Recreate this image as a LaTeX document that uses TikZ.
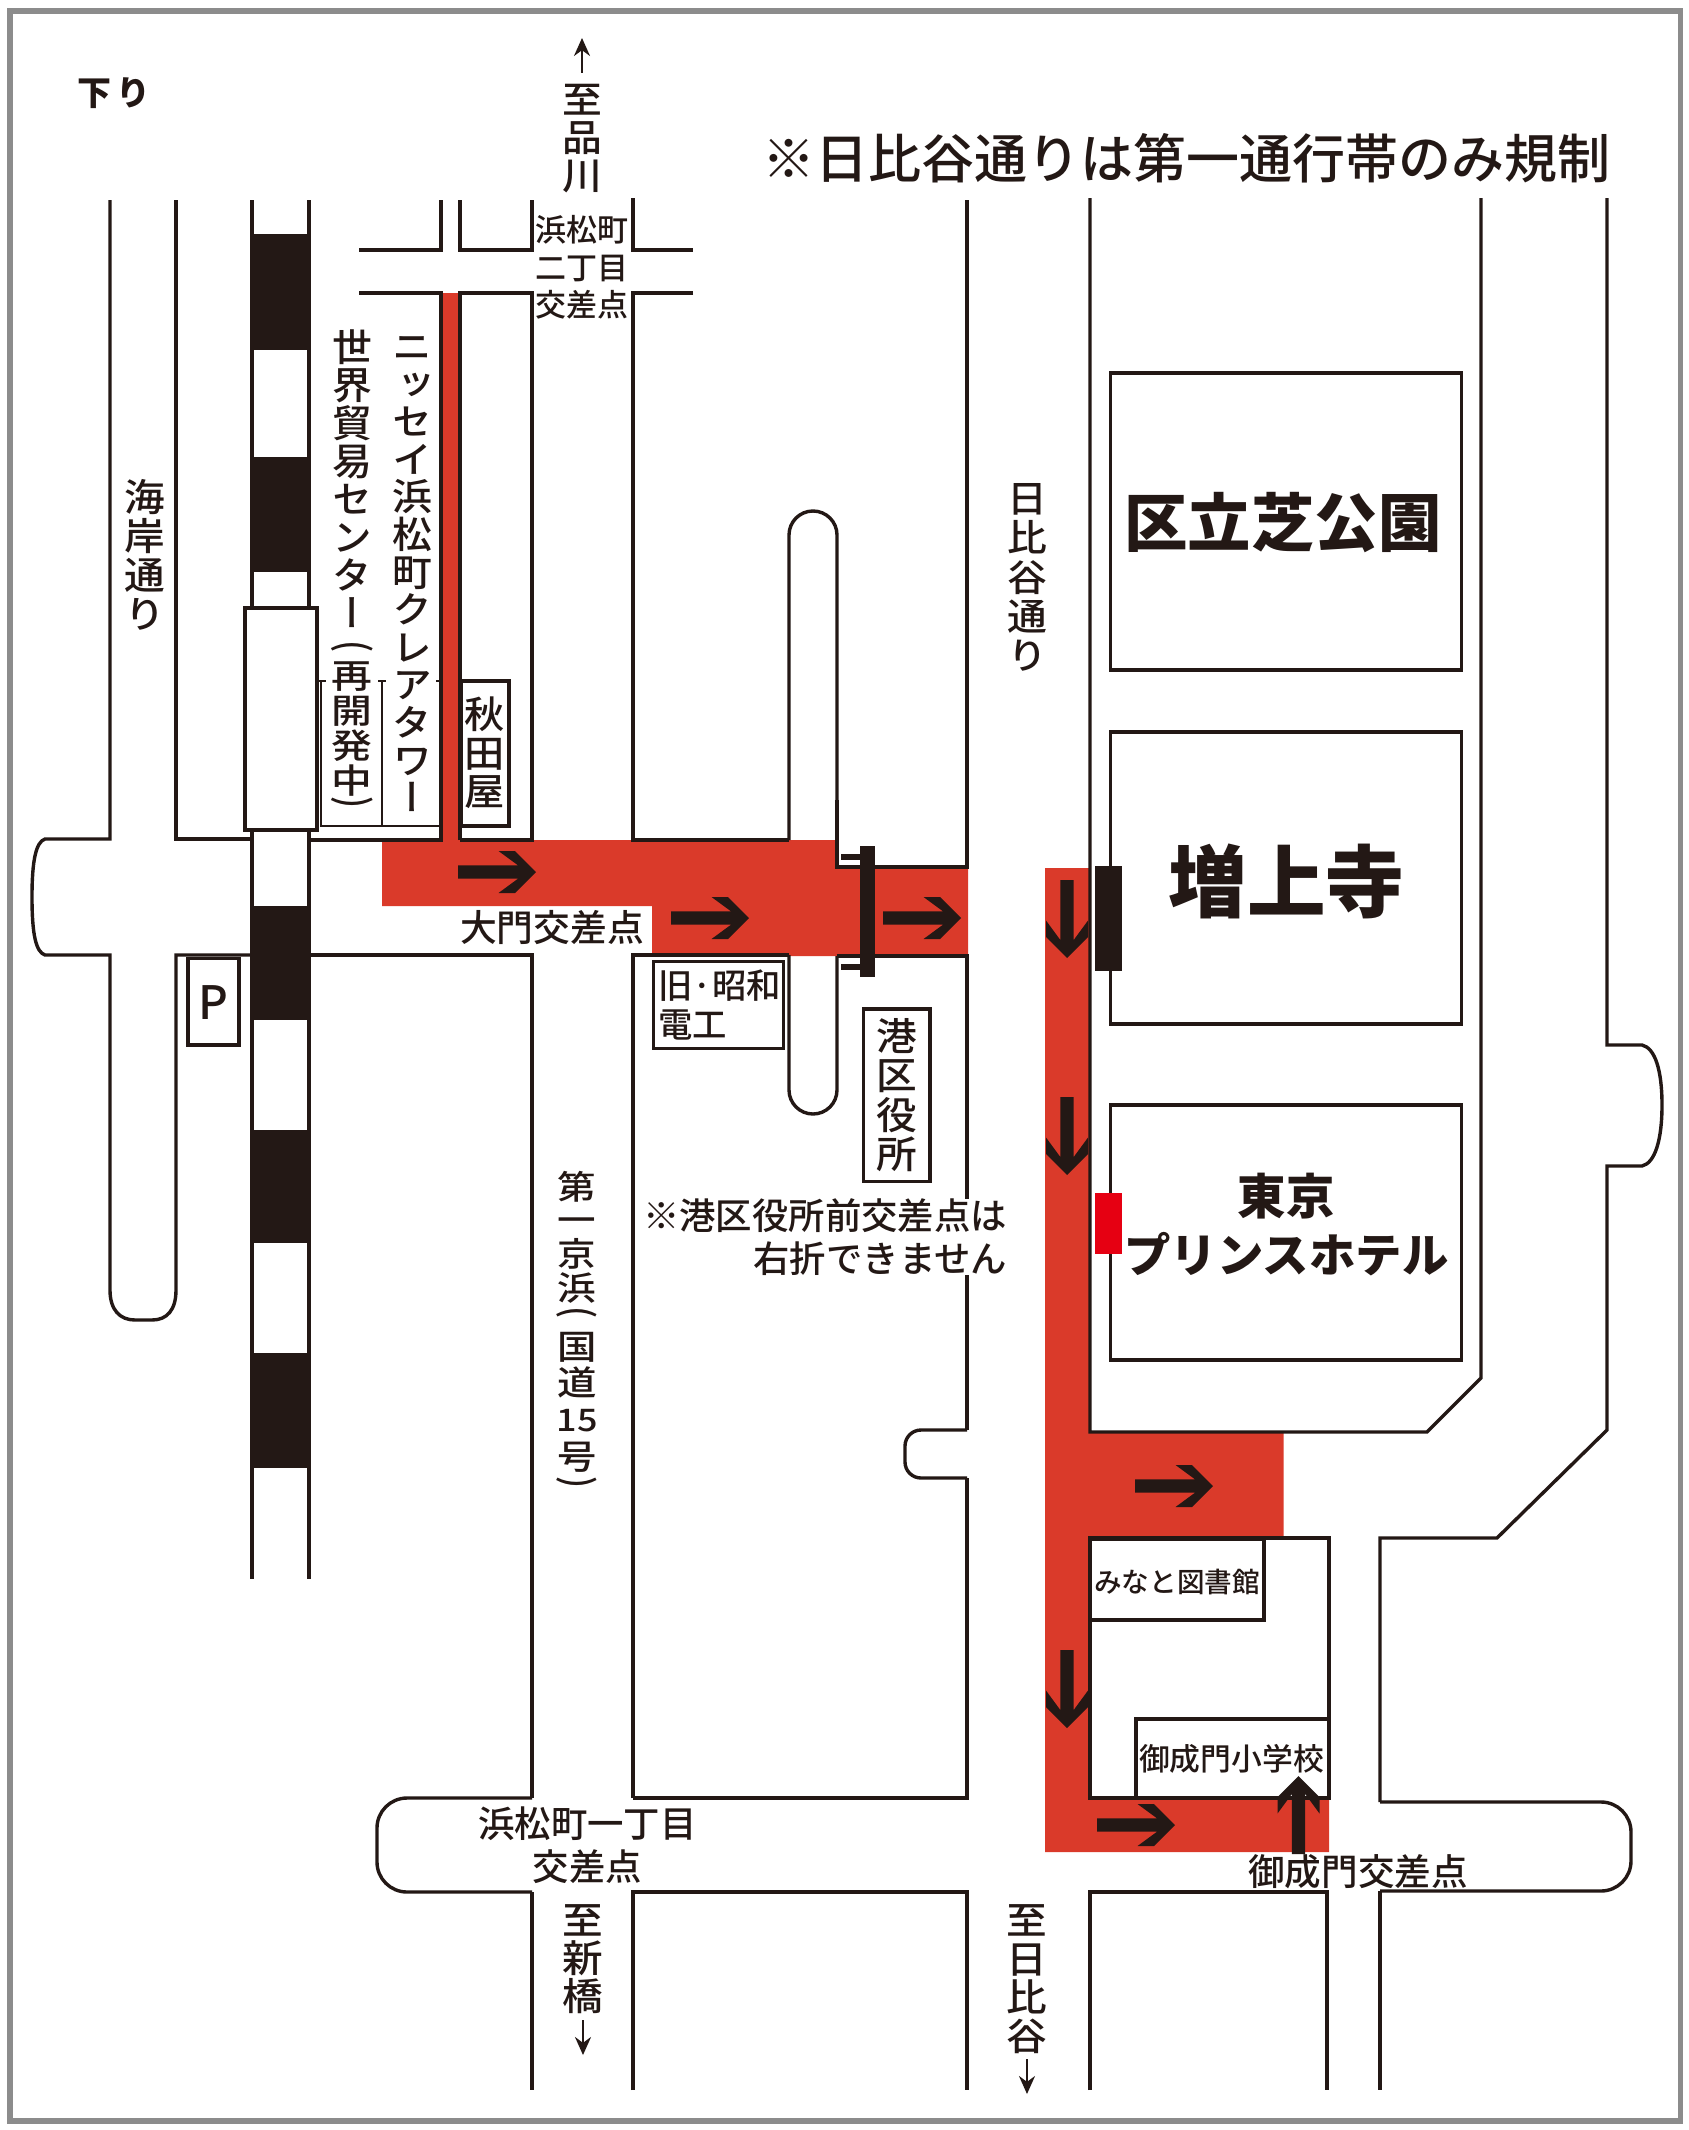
\documentclass[tikz,border=0pt]{standalone}
\usepackage{fontspec}
\usetikzlibrary{arrows.meta}
\newfontfamily\jp{Noto Sans CJK JP Medium}
\newfontfamily\jpb{Noto Sans CJK JP Black}
\newfontfamily\jpv{Noto Sans CJK JP Medium}[RawFeature=+vert]
\setmainfont{Noto Sans CJK JP}
\definecolor{ink}{HTML}{231815}
\definecolor{route}{HTML}{DA3A2A}
\definecolor{pure}{HTML}{E60012}
\definecolor{framegray}{HTML}{8C8C8C}
\makeatletter
\newcommand\vcell[2]{\hbox to 1em{\vrule height \dimexpr#1pt/2+.38em\relax depth \dimexpr#1pt/2-.38em\relax width 0pt\hss\smash{#2}\hss}}
\newcommand\vrun[2]{\@tfor\vc:=#2\do{\vcell{#1}{\vc}}}
\newcommand\vpart[3]{\hbox to 26pt{\hss\scalebox{#1}[1]{\vbox{\fontsize{#2}{#2}\jpv\offinterlineskip #3}}\hss}}
\newcommand\vtxt[3]{\vpart{1.07}{#1}{\vrun{#2}{#3}}}
\newcommand\vparen[2]{\vbox to #1pt{\vss\hbox to 1em{\hss\rotatebox[origin=c]{-90}{#2}\hss}\vss}}
\makeatother
\newcommand\fs[1]{\fontsize{#1}{#1}\selectfont}
\tikzset{
  x=0.5pt,y=-0.5pt,
  road/.style={draw=ink,line width=1.7pt,line join=miter},
  bldg/.style={draw=ink,line width=1.9pt,fill=white},
  label/.style={inner sep=0pt,text=ink,font=\jp},
  bigarrow/.pic={\fill[ink] (0,-6.7)--(60,-6.7)--(40.5,-21)--(57,-21)--(78,0)--(57,21)--(40.5,21)--(60,6.7)--(0,6.7)--cycle;},
  smallarrow/.style={draw=ink,line width=1.2pt,-{Stealth[length=9pt,width=8pt]}}
}
\begin{document}
\begin{tikzpicture}
\useasboundingbox (0,0) rectangle (1689,2130);
\fill[white] (0,0) rectangle (1689,2130);
\draw[framegray,line width=2.6pt] (10,11) rectangle (1680.5,2121);

% route
\fill[route] (382,840)--(837,840)--(837,867)--(968,867)--(968,956)--(652,956)--(652,906)--(382,906)--cycle;
\fill[route] (441,293) rectangle (460,842);
\fill[route] (1045,868)--(1090,868)--(1090,1432)--(1283.5,1432)--(1283.5,1539)--(1090,1539)--(1090,1798)--(1329,1798)--(1329,1852)--(1045,1852)--cycle;

% coast road
\draw[road] (110,200)--(110,839)--(45,839) .. controls (36,842) and (32,860) .. (32,897) .. controls (32,935) and (36,952) .. (45,955)--(110,955)--(110,1290) .. controls (110,1310) and (120,1320) .. (135,1320)--(152,1320) .. controls (167,1320) and (176,1310) .. (176,1290)--(176,955)--(252,955);
\draw[road] (176,200)--(176,839)--(252,839);
% top crossing
\draw[road] (359,250)--(441,250)--(441,200);
\draw[road] (460,200)--(460,250)--(532,250)--(532,200);
\draw[road] (633,198)--(633,250)--(693,250);
\draw[road] (359,293)--(441,293)--(441,840)--(309,840);
\draw[road] (460,840)--(460,293)--(532,293)--(532,840)--(460,840);
\draw[road] (693,293)--(633,293)--(633,840)--(789,840);
% stub north
\draw[road,rounded corners=12pt] (789,840)--(789,511)--(837,511)--(837,800);
\draw[road] (837,800)--(837,867)--(967,867)--(967,200);
% south of cross road
\draw[road] (309,955)--(532,955)--(532,1798);
\draw[road] (633,1798)--(633,955)--(789,955);
\draw[road,rounded corners=12pt] (789,955)--(789,1114)--(837,1114)--(837,956);
\draw[road] (837,956)--(967,956)--(967,1430);
\draw[road,rounded corners=8pt] (967,1430)--(905,1430)--(905,1478)--(967,1478);
\draw[road] (967,1478)--(967,1798)--(633,1798);
% lower cross road
\draw[road,rounded corners=15pt] (532,1798)--(377,1798)--(377,1892)--(532,1892);
\draw[road] (532,1892)--(532,2090);
\draw[road] (633,2090)--(633,1892)--(967,1892)--(967,2090);
\draw[road] (1090,2090)--(1090,1892)--(1327,1892)--(1327,2090);
% Hibiya east side
\draw[road] (1090,198)--(1090,1432)--(1427,1432)--(1481,1378)--(1481,198);
\draw[road] (1607,198)--(1607,1045)--(1642,1045) .. controls (1655,1048) and (1662,1070) .. (1662,1105) .. controls (1662,1140) and (1655,1163) .. (1642,1166)--(1607,1166)--(1607,1430)--(1497,1538)--(1380,1538)--(1380,1802);
\draw[road,rounded corners=15pt] (1380,1802)--(1631,1802)--(1631,1891)--(1380,1891);
\draw[road] (1380,1891)--(1380,2090);
\draw[bldg,fill=none] (1090,1538)--(1329,1538)--(1329,1798)--(1090,1798)--cycle;

% rail
\foreach \a/\b in {234/350,457/572,906/1020,1130/1243,1353/1468}{\fill[ink] (251,\a) rectangle (311,\b);}
\draw[road,line width=2pt] (252,200)--(252,1579);
\draw[road,line width=2pt] (309,200)--(309,1579);
\draw[bldg,line width=2pt] (244.5,608) rectangle (317,830);

% buildings
\draw[bldg] (1110.5,373) rectangle (1461.5,670);
\draw[bldg] (1110.5,732) rectangle (1461.5,1024);
\draw[bldg] (1110.5,1105) rectangle (1461.5,1360);
\draw[bldg] (1090,1539) rectangle (1264,1620);
\draw[bldg] (1136,1719) rectangle (1329,1798);
\draw[bldg] (461,681) rectangle (509,826);
\draw[bldg] (188,958.5) rectangle (239,1044.7);
\draw[bldg,line width=1.7pt] (653.5,961.5) rectangle (783.5,1048.5);
\draw[bldg] (863.5,1009) rectangle (930,1181.5);
% thin box
\draw[ink,line width=.8pt] (321,681)--(321,826)--(441,826);
\draw[ink,line width=.8pt] (382,681)--(382,826);
\draw[ink,line width=.8pt] (319,681)--(326,681) (378,681)--(386,681) (436,681)--(441,681);

% gate bars
\fill[ink] (860,846) rectangle (875,977);
\draw[ink,line width=3.3pt] (841,857)--(860,857) (841,967)--(860,967);
\fill[ink] (1095,866) rectangle (1122,971);
\fill[pure] (1095,1193) rectangle (1122,1254);

% arrows
\pic at (458,872) {bigarrow};
\pic at (671,918) {bigarrow};
\pic at (883,918) {bigarrow};
\pic[rotate=-90] at (1067,880) {bigarrow};
\pic[rotate=-90] at (1067,1097) {bigarrow};
\pic at (1135,1486) {bigarrow};
\pic[rotate=-90] at (1067,1650) {bigarrow};
\pic at (1097,1825) {bigarrow};
\pic[rotate=90] at (1298.5,1854) {bigarrow};

\coordinate (ua) at (582,73); \coordinate (ub) at (582,38);
\coordinate (sa) at (583,2020); \coordinate (sb) at (583,2055);
\coordinate (ha) at (1027,2059); \coordinate (hb) at (1027,2094);
\draw[smallarrow] (ua)--(ub);
\draw[smallarrow] (sa)--(sb);
\draw[smallarrow] (ha)--(hb);

% texts
\node[label,font=\jpb\fs{17}] (down) at (114,93) {下\,り};
\node[label,font=\jp\fs{26.5}] (title) at (1186.5,158) {※日比谷通りは第一通行帯のみ規制};
\node[label] (shina) at (582,137) {\vtxt{18.6}{19}{至品川}};
\node[label,font=\jp\fs{15.5},align=center] (hama2) at (582,267.5) {浜松町\\[3.2pt]二丁目\\[3.2pt]交差点};
\node[label] (wtc) at (352,570) {\vbox{\offinterlineskip\vpart{1.05}{19}{\vrun{19}{世界貿易センター}}\kern5pt\vpart{1.2}{17}{\vparen{7}{(}\kern1pt\vrun{17.5}{再開発中}\vparen{7}{)}}}};
\node[label] (nissay) at (412,572) {\vtxt{18.6}{18.8}{ニッセイ浜松町クレアタワー}};
\node[label] (kaigan) at (145,556) {\vtxt{19}{19.5}{海岸通り}};
\node[label] (akita) at (485,753) {\vtxt{18.8}{19.2}{秋田屋}};
\node[label,font=\jp\fs{23}] (p) at (213.5,1003) {P};
\node[label,font=\jp\fs{18.4}] (daimon) at (552,928) {大門交差点};
\node[label,font=\jp\fs{17.2},align=left,anchor=west] (showa) at (658,1005) {旧·昭和\\[2pt]電工};
\node[label] (minato) at (896.5,1095) {\vtxt{19}{19.6}{港区役所}};
\node[label,font=\jp\fs{18.2},align=right,anchor=east,fill=white] (note) at (1007.5,1237) {※港区役所前交差点は\\[3pt]右折できません};
\node[label] (k15) at (577,1331) {\vbox{\offinterlineskip\vpart{1.16}{16.6}{\vrun{16.8}{第一京浜}}\kern2pt\vpart{1.16}{17}{\vparen{7}{(}\kern3pt\vrun{18}{国道}\hbox to 1em{\hss\vrule height 15.5pt depth 3.5pt width 0pt\smash{\fs{15.5}15}\hss}\vrun{18.5}{号}\kern1.5pt\vparen{7}{)}}}};
\node[label] (hibiya) at (1027.5,577) {\vtxt{18.6}{19.6}{日比谷通り}};
\node[label] (tohibiya) at (1027,1978) {\vtxt{19}{19.4}{至日比谷}};
\node[label] (shinb) at (583,1958) {\vtxt{19}{19.2}{至新橋}};
\node[label,font=\jp\fs{18.2},align=center] (hama1) at (587.5,1845) {浜松町一丁目\\[3pt]交差点};
\node[label,font=\jp\fs{18.3}] (onari) at (1358,1872) {御成門交差点};
\node[label,font=\jp\fs{13.8}] (lib) at (1177,1582) {みなと図書館};
\node[label,font=\jp\fs{15.4}] (school) at (1231.5,1759) {御成門小学校};
\node[label,font=\jpb\fs{31.7}] (park) at (1283,523) {区立芝公園};
\node[label,font=\jpb\fs{39.3}] (zojoji) at (1286.5,881) {増上寺};
\node[label,font=\jpb\fs{24.2}] (tokyo) at (1286,1196) {東京};
\node[label,font=\jpb\fs{23.2}] (prince) at (1286.5,1254) {プリンスホテル};
\end{tikzpicture}
\end{document}
